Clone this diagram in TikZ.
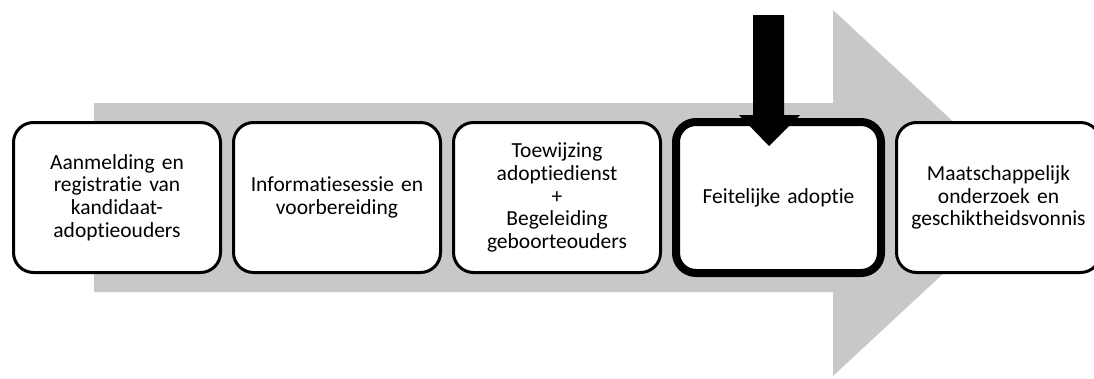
\documentclass[tikz,border=0pt]{standalone}
\usepackage{fontspec}
\setmainfont{Carlito}[Ligatures={NoCommon}]
\usetikzlibrary{positioning}
\definecolor{pijlgrijs}{RGB}{200,200,200}

\begin{document}
\begin{tikzpicture}[x=1pt, y=-1pt,
        stap/.style={draw, line width=3pt, rounded corners=20pt, fill=white,
            minimum width=207pt, minimum height=150pt, inner sep=2pt,
            text width=200pt, align=center, font=\fontsize{21.5}{22.8}\selectfont},
        huidig/.style={stap, line width=8pt, minimum width=205pt,
            minimum height=151pt},
        node distance=10pt]
\useasboundingbox (0,0) rectangle (1094,378);

% grijze pijl op de achtergrond
\fill[pijlgrijs] (94,103) -- (833,103) -- (833,10) -- (1030,193)
    -- (833,376) -- (833,292) -- (94,292) -- cycle;

\node[stap] (aanmelding) at (117,197.5) {Aanmelding en\\registratie van\\kandidaat-\\adoptieouders};
\node[stap, right=of aanmelding] (info) {Informatiesessie en\\voorbereiding};
\node[stap, right=of info] (toewijzing) {Toewijzing\\adoptiedienst\\+\\Begeleiding\\geboorteouders};
\node[huidig, right=of toewijzing] (feitelijk) {Feitelijke adoptie};
\node[stap, right=of feitelijk, minimum width=197pt] (onderzoek) {Maatschappelijk\\onderzoek en\\geschiktheidsvonnis};

% zwarte pijl: huidige stap
\fill[black] (753,15) -- (784,15) -- (784,115) -- (800,115) -- (769,146)
    -- (739,115) -- (753,115) -- cycle;

\end{tikzpicture}
\end{document}
